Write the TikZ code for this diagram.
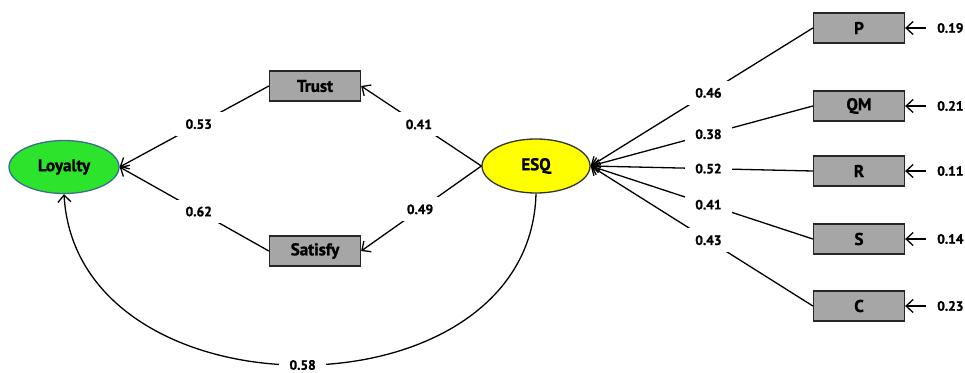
\documentclass[tikz,border=0pt]{standalone}
\usepackage{fontspec}
\setmainfont{PT Sans}[BoldFeatures={FakeBold=1.2}]
\usetikzlibrary{arrows.meta,shapes.geometric}
\definecolor{boxgray}{RGB}{166,166,166}
\definecolor{loygreen}{RGB}{45,228,45}
\definecolor{loyedge}{RGB}{60,110,140}
\definecolor{esqyellow}{RGB}{255,255,0}
\begin{document}
\begin{tikzpicture}[x=1pt,y=-1pt,
  obs/.style={draw=black!85, fill=boxgray, line width=1.3pt, minimum width=91pt,
    minimum height=30pt, inner sep=0pt, font=\fontsize{17}{17}\selectfont\bfseries},
  lat/.style={ellipse, line width=1.3pt, inner sep=0pt,
    font=\fontsize{17}{17}\selectfont\bfseries},
  coef/.style={fill=white, inner xsep=10pt, inner ysep=7pt,
    font=\fontsize{13.5}{13.5}\selectfont\bfseries},
  errlab/.style={inner sep=0pt, font=\fontsize{13.5}{13.5}\selectfont\bfseries},
  pth/.style={line width=1.3pt, -{Straight Barb[length=7pt,width=13pt,line width=1.3pt]}},
]
\useasboundingbox (0,0) rectangle (965,372);

% latent variables
\node[lat, fill=loygreen, draw=loyedge, minimum width=110pt, minimum height=53pt] (loy) at (64,167) {Loyalty};
\node[lat, fill=esqyellow, draw=black!80, minimum width=108pt, minimum height=54pt] (esq) at (536,166) {ESQ};

% mediators
\node[obs] (trust) at (315,86) {Trust};
\node[obs] (sat) at (315,251) {Satisfy};

% indicators
\node[obs] (P)  at (859,28)  {P};
\node[obs] (QM) at (859,106) {QM};
\node[obs] (R)  at (859,171) {R};
\node[obs] (S)  at (859,239) {S};
\node[obs] (C)  at (859,306) {C};

% error terms
\node[errlab, anchor=west] (eP)  at (937,28)  {0.19};
\node[errlab, anchor=west] (eQM) at (937,106) {0.21};
\node[errlab, anchor=west] (eR)  at (937,171) {0.11};
\node[errlab, anchor=west] (eS)  at (937,239) {0.14};
\node[errlab, anchor=west] (eC)  at (937,306) {0.23};
\foreach \a/\b in {eP/P, eQM/QM, eR/R, eS/S, eC/C}
  \draw[pth, shorten <=11pt] (\a.west) -- (\b.east);

% structural paths
\draw[pth] (trust.west) -- node[coef, pos=0.47] {0.53} (loy.east);
\draw[pth] (sat.west) -- node[coef, pos=0.47] {0.62} (loy.east);
\draw[pth] (esq.west) -- node[coef, pos=0.52] {0.41} (trust.east);
\draw[pth] (esq.west) -- node[coef, pos=0.51] {0.49} (sat.east);

% measurement paths
\draw[pth] (P.west)  -- node[coef, pos=0.47] {0.46} (esq.east);
\draw[pth] (QM.west) -- node[coef, pos=0.47] {0.38} (esq.east);
\draw[pth] (R.west)  -- node[coef, pos=0.47] {0.52} (esq.east);
\draw[pth] (S.west)  -- node[coef, pos=0.47] {0.41} (esq.east);
\draw[pth] (C.west)  -- node[coef, pos=0.47] {0.43} (esq.east);

% direct effect
\draw[pth] (esq.south) .. controls (530,422) and (77,422) .. (loy.south)
  node[coef, pos=0.5, inner ysep=4pt] {0.58};
\end{tikzpicture}
\end{document}
